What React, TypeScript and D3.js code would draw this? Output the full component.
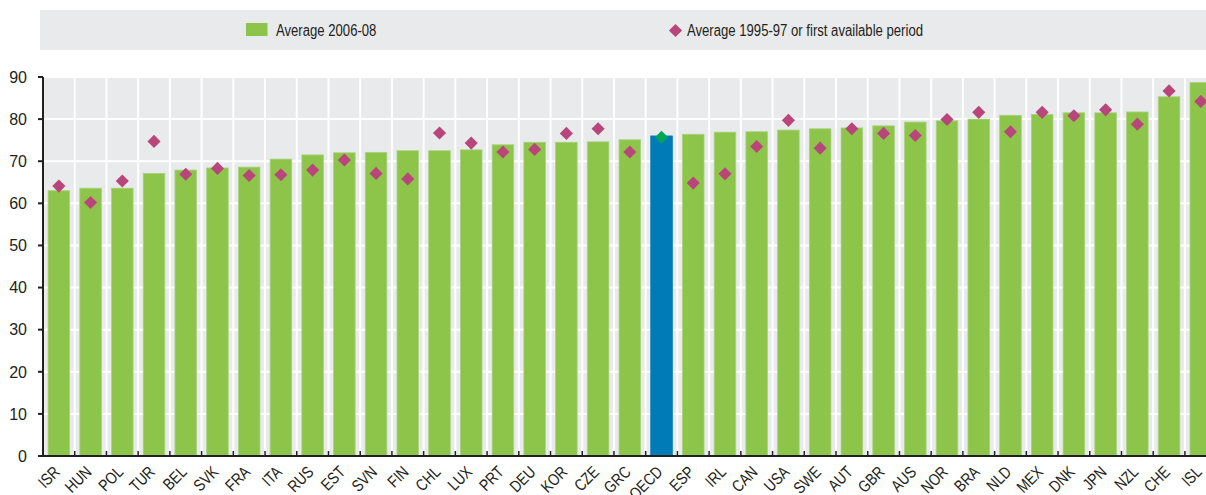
import * as d3 from "d3";

const countries = [
  "ISR", "HUN", "POL", "TUR", "BEL", "SVK", "FRA", "ITA", "RUS", "EST", "SVN", "FIN",
  "CHL", "LUX", "PRT", "DEU", "KOR", "CZE", "GRC", "OECD", "ESP", "IRL", "CAN", "USA",
  "SWE", "AUT", "GBR", "AUS", "NOR", "BRA", "NLD", "MEX", "DNK", "JPN", "NZL", "CHE", "ISL"
];

const avg2006 = [
  63.0, 63.6, 63.6, 67.1, 67.9, 68.4, 68.6, 70.5, 71.5, 72.0, 72.1, 72.5,
  72.5, 72.7, 73.9, 74.5, 74.5, 74.6, 75.1, 76.0, 76.4, 76.9, 77.0, 77.4,
  77.7, 77.9, 78.4, 79.3, 79.6, 80.0, 80.9, 81.1, 81.5, 81.5, 81.7, 85.3, 88.7
];

const avg1995 = [
  64.1, 60.2, 65.3, 74.7, 66.9, 68.3, 66.6, 66.8, 67.9, 70.3, 67.1, 65.8,
  76.7, 74.3, 72.2, 72.8, 76.6, 77.7, 72.2, 75.7, 64.8, 67.0, 73.5, 79.7,
  73.1, 77.7, 76.6, 76.1, 79.9, 81.6, 77.0, 81.6, 80.8, 82.2, 78.8, 86.7, 84.2
];

const yTicks = [0, 10, 20, 30, 40, 50, 60, 70, 80, 90];

const legendLabels = ["Average 2006-08", "Average 1995-97 or first available period"];

const GREEN = "#8dc54b";
const PINK = "#b9467a";
const BLUE = "#007bb8";
const OECD_DIAMOND = "#00a65a";
const PANEL = "#e9eaec";
const INK = "#231f20";
const FONT = "'Liberation Sans', Arial, Helvetica, sans-serif";
// no narrow face installed, so squeeze the regular one
const NARROW = 0.82;

export default function App() {
  const width = 1206;
  const height = 495;
  const left = 43;
  const top = 77;
  const bottom = 456;
  const step = 31.72;
  const right = left + step * countries.length;

  const x = d3
    .scaleBand<string>()
    .domain(countries)
    .range([left, right])
    .paddingInner(0.32)
    .paddingOuter(0.16);
  const y = d3.scaleLinear().domain([0, 90]).range([bottom, top]);

  const diamond = d3.symbol().type(d3.symbolDiamond2).size(110)() ?? "";
  const boundaries = d3.range(countries.length + 1).map((i) => left + i * x.step());

  return (
    <svg
      width={width}
      height={height}
      viewBox={`0 0 ${width} ${height}`}
      style={{ position: "absolute", left: 0, top: 0, background: "#fff" }}
    >
      <rect x={40} y={10} width={width - 40} height={40} fill={PANEL} />
      <rect x={246} y={23} width={21.5} height={13} fill={GREEN} />
      <text transform={`translate(276,36) scale(${NARROW},1)`} fontFamily={FONT} fontSize={16} fill={INK}>
        {legendLabels[0]}
      </text>
      <path d={diamond} transform="translate(675.5,30.5)" fill={PINK} />
      <text transform={`translate(687,36) scale(${NARROW},1)`} fontFamily={FONT} fontSize={16} fill={INK}>
        {legendLabels[1]}
      </text>

      <rect x={left} y={top} width={right - left} height={bottom - top} fill={PANEL} />
      {yTicks.map((t) => (
        <line key={`g${t}`} x1={left} x2={right} y1={y(t)} y2={y(t)} stroke="#fff" strokeWidth={2} />
      ))}
      {boundaries.map((bx, i) => (
        <line key={`v${i}`} x1={bx} x2={bx} y1={top} y2={bottom} stroke="#fff" strokeWidth={2} />
      ))}

      {countries.map((c, i) => (
        <rect
          key={`b${c}`}
          x={x(c)}
          y={y(avg2006[i])}
          width={x.bandwidth()}
          height={bottom - y(avg2006[i])}
          fill={c === "OECD" ? BLUE : GREEN}
          stroke={c === "OECD" ? BLUE : "#a9d37c"}
          strokeWidth={0.8}
        />
      ))}
      {countries.map((c, i) => (
        <path
          key={`d${c}`}
          d={diamond}
          transform={`translate(${(x(c) ?? 0) + x.bandwidth() / 2},${y(avg1995[i])})`}
          fill={c === "OECD" ? OECD_DIAMOND : PINK}
        />
      ))}

      <line x1={left} x2={left} y1={top} y2={bottom + 1} stroke={INK} strokeWidth={2} />
      <line x1={left - 1} x2={right} y1={bottom} y2={bottom} stroke={INK} strokeWidth={2} />
      {yTicks.map((t) => (
        <g key={`yt${t}`}>
          <line x1={left - 5} x2={left} y1={y(t)} y2={y(t)} stroke={INK} strokeWidth={2} />
          <text x={27} y={y(t)} dy="0.36em" textAnchor="end" fontFamily={FONT} fontSize={16} fill={INK}>
            {t}
          </text>
        </g>
      ))}
      {boundaries.slice(1).map((bx, i) => (
        <line key={`xt${i}`} x1={bx} x2={bx} y1={bottom - 5} y2={bottom} stroke={INK} strokeWidth={1.5} />
      ))}
      {countries.map((c) => {
        const cx = (x(c) ?? 0) + x.bandwidth() / 2 + 2;
        return (
          <text
            key={`l${c}`}
            transform={`translate(${cx},${bottom + 17}) rotate(-45) scale(${NARROW},1)`}
            textAnchor="end"
            fontFamily={FONT}
            fontSize={16.5}
            fill={INK}
          >
            {c}
          </text>
        );
      })}
    </svg>
  );
}
